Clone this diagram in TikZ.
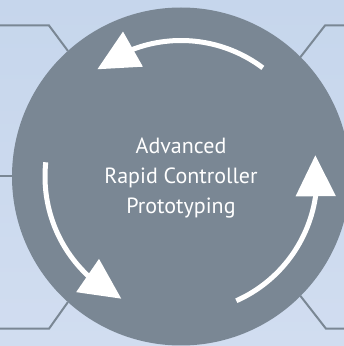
\documentclass[tikz,border=0pt]{standalone}
\usepackage{fontspec}
\setmainfont{PT Sans}
\usepackage{tikz}
\usetikzlibrary{calc}
\usetikzlibrary{arrows.meta, bending}
\definecolor{paleblue}{HTML}{C6D6EC}
\definecolor{paleblue2}{HTML}{D1DDF0}
\definecolor{slate}{HTML}{7A8794}

\begin{document}
\begin{tikzpicture}[x=1pt, y=1pt,
		hub/.style={circle, fill=slate, minimum size=338pt, inner sep=0pt, outer sep=0pt},
		tag/.style={text=white, align=center, font=\fontsize{22}{30}\selectfont},
		rule/.style={draw=slate, line width=2pt},
		flow/.style={draw=white, line width=5pt, -{Triangle[length=41pt, width=39pt, flex]}}]
	\clip (0,0) rectangle (344,346);
	\shade[top color=paleblue, bottom color=paleblue2] (0,0) rectangle (344,346);
	\node[hub] (hub) at (181,169.5) {};
	\coordinate (nw) at (0,320.5);
	\coordinate (ne) at (344,320.5);
	\coordinate (w) at (0,169.5);
	\coordinate (sw) at (0,17.3);
	\coordinate (se) at (344,17.3);
	\draw[rule] (nw) -- (49,320.5) -- (hub.132);
	\draw[rule] (ne) -- (325,320.5) -- (hub.45);
	\draw[rule] (w) -- (hub.west);
	\draw[rule] (sw) -- (49,17.3) -- (hub.228);
	\draw[rule] (se) -- (326,17.3) -- (hub.315);
	\node[tag] (title) at ([yshift=-2pt]hub.center) {Advanced\\Rapid Controller\\Prototyping};
	\foreach \s/\e in {53/128, 174/244, 294/369}
		\draw[flow] ($(hub.center)+(\s:136)$) arc[start angle=\s, end angle=\e, radius=136];
\end{tikzpicture}
\end{document}
